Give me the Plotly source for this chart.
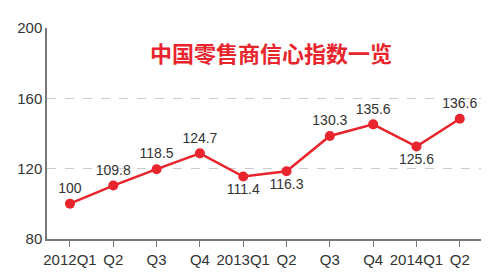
import plotly.graph_objects as go

quarters = ["2012Q1", "Q2", "Q3", "Q4", "2013Q1", "Q2", "Q3", "Q4", "2014Q1", "Q2"]
# plotted positions
plotted = [100.1, 110.4, 119.7, 128.7, 115.5, 118.5, 138.6, 145.2, 132.6, 148.4]
# printed data labels
labels = ["100", "109.8", "118.5", "124.7", "111.4", "116.3", "130.3", "135.6", "125.6", "136.6"]
label_pos = ["top center", "top center", "top center", "top center", "bottom center",
             "bottom center", "top center", "top center", "bottom center", "top center"]
y_ticks = [80, 120, 160, 200]
title_text = "中国零售商信心指数一览"

x_idx = list(range(len(quarters)))

fig = go.Figure()
fig.add_trace(go.Scatter(
    x=x_idx, y=plotted, mode="lines+markers+text",
    line=dict(color="#e8242c", width=2.5),
    marker=dict(color="#e8242c", size=10),
    text=labels, textposition=label_pos,
    textfont=dict(family="Liberation Sans, Arial", size=14, color="#333333"),
    cliponaxis=False, showlegend=False,
))

fig.update_layout(
    width=500, height=280,
    margin=dict(l=47, r=19, t=28, b=39),
    paper_bgcolor="white", plot_bgcolor="white",
    font=dict(family="Liberation Sans, Arial", size=15, color="#333333"),
    xaxis=dict(
        range=[-0.53, 9.49], tickvals=x_idx, ticktext=quarters,
        showgrid=False, zeroline=False, showline=True, linecolor="#777777", linewidth=1.5,
        ticks="outside", ticklen=6, tickcolor="#777777", tickwidth=1,
        tickfont=dict(size=15, color="#333333"),
    ),
    yaxis=dict(
        range=[80, 200], tickvals=y_ticks,
        showgrid=True, gridcolor="#cccccc", griddash="dash", gridwidth=1,
        zeroline=False, showline=True, linecolor="#777777", linewidth=1.5,
        ticks="", tickfont=dict(size=15, color="#333333"),
    ),
    annotations=[dict(
        text="<b>" + title_text + "</b>", xref="paper", yref="paper",
        x=(271 - 47) / 434, y=1 - (52 - 28) / 213, showarrow=False,
        xanchor="center", yanchor="middle",
        font=dict(family="Noto Sans CJK SC", size=22, color="#e8242c"),
    )],
)

fig.write_html("out.html")
